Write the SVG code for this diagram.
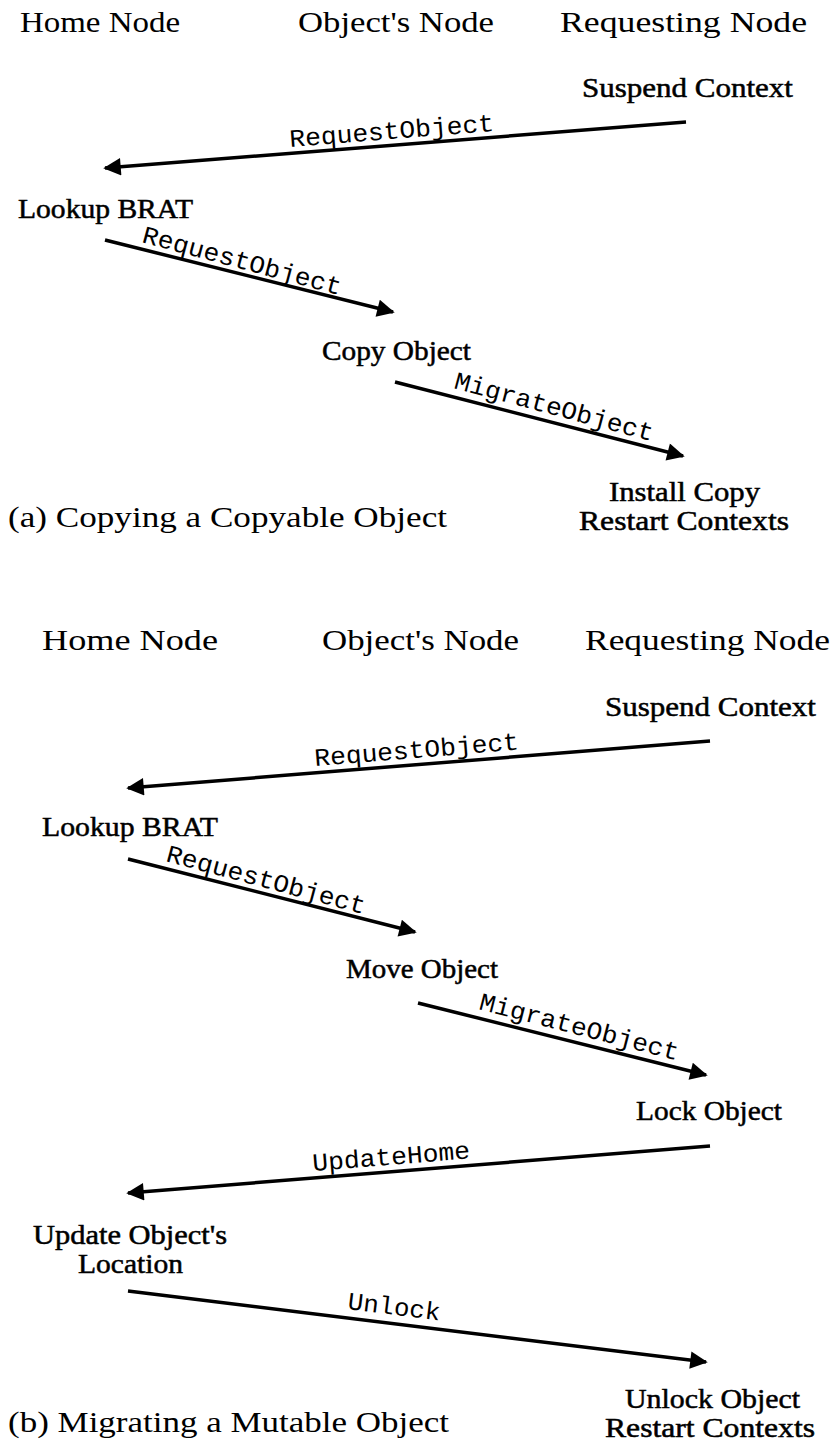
<svg xmlns="http://www.w3.org/2000/svg" width="833" height="1443" viewBox="0 0 833 1443">
  <style>
    .hdr { font-size: 30px; fill: #000; }
    .node { font-size: 27px; fill: #000; stroke: #000; stroke-width: 0.5px; }
    .cap { font-size: 30px; fill: #000; }
    .msg { font-size: 25px; fill: #000; }
    .arrow { stroke: #000; stroke-width: 3.5; fill: none; marker-end: url(#head); }
  </style>
  <defs>
    <marker id="head" viewBox="0 0 10 10" refX="9" refY="5" markerWidth="7" markerHeight="5" orient="auto" markerUnits="strokeWidth">
      <path d="M0,0 L10,5 L0,10 Z" fill="#000"/>
    </marker>
  </defs>
  <rect width="833" height="1443" fill="#fff"/>

  <g font-family="Liberation Serif, Times New Roman, serif">
    <!-- (a) column headings -->
    <g id="a-headers">
      <text class="hdr" x="20" y="32" textLength="160" lengthAdjust="spacingAndGlyphs">Home Node</text>
      <text class="hdr" x="298" y="32" textLength="196" lengthAdjust="spacingAndGlyphs">Object's Node</text>
      <text class="hdr" x="560" y="32" textLength="247" lengthAdjust="spacingAndGlyphs">Requesting Node</text>
    </g>

    <!-- (a) steps -->
    <g id="a-suspend"><text class="node" x="582" y="97" textLength="211" lengthAdjust="spacingAndGlyphs">Suspend Context</text></g>
    <g id="a-lookup"><text class="node" x="18" y="218" textLength="175" lengthAdjust="spacingAndGlyphs">Lookup BRAT</text></g>
    <g id="a-copy"><text class="node" x="322" y="360" textLength="149" lengthAdjust="spacingAndGlyphs">Copy Object</text></g>
    <g id="a-install">
      <text class="node" x="609" y="501" textLength="151" lengthAdjust="spacingAndGlyphs">Install Copy</text>
      <text class="node" x="579" y="530" textLength="210" lengthAdjust="spacingAndGlyphs">Restart Contexts</text>
    </g>
    <g id="a-caption"><text class="cap" x="8" y="527" textLength="439" lengthAdjust="spacingAndGlyphs">(a) Copying a Copyable Object</text></g>

    <!-- (b) column headings -->
    <g id="b-headers">
      <text class="hdr" x="42" y="650" textLength="176" lengthAdjust="spacingAndGlyphs">Home Node</text>
      <text class="hdr" x="322" y="650" textLength="197" lengthAdjust="spacingAndGlyphs">Object's Node</text>
      <text class="hdr" x="585" y="650" textLength="245" lengthAdjust="spacingAndGlyphs">Requesting Node</text>
    </g>

    <!-- (b) steps -->
    <g id="b-suspend"><text class="node" x="605" y="716" textLength="211" lengthAdjust="spacingAndGlyphs">Suspend Context</text></g>
    <g id="b-lookup"><text class="node" x="42" y="836" textLength="176" lengthAdjust="spacingAndGlyphs">Lookup BRAT</text></g>
    <g id="b-move"><text class="node" x="346" y="978" textLength="152" lengthAdjust="spacingAndGlyphs">Move Object</text></g>
    <g id="b-lock"><text class="node" x="636" y="1120" textLength="146" lengthAdjust="spacingAndGlyphs">Lock Object</text></g>
    <g id="b-update">
      <text class="node" x="33" y="1244" textLength="194" lengthAdjust="spacingAndGlyphs">Update Object's</text>
      <text class="node" x="78" y="1273" textLength="105" lengthAdjust="spacingAndGlyphs">Location</text>
    </g>
    <g id="b-unlock">
      <text class="node" x="625" y="1408" textLength="175" lengthAdjust="spacingAndGlyphs">Unlock Object</text>
      <text class="node" x="605" y="1437" textLength="210" lengthAdjust="spacingAndGlyphs">Restart Contexts</text>
    </g>
    <g id="b-caption"><text class="cap" x="8" y="1432" textLength="441" lengthAdjust="spacingAndGlyphs">(b) Migrating a Mutable Object</text></g>
  </g>

  <!-- messages between nodes -->
  <g id="connectors" font-family="Liberation Mono, Courier New, monospace">
    <line class="arrow" x1="686" y1="122" x2="105" y2="168"/>
    <text class="msg" transform="translate(290,147) rotate(-4.5)" textLength="205" lengthAdjust="spacingAndGlyphs">RequestObject</text>

    <line class="arrow" x1="105" y1="240" x2="393" y2="312"/>
    <text class="msg" transform="translate(141,242) rotate(15)" textLength="205" lengthAdjust="spacingAndGlyphs">RequestObject</text>

    <line class="arrow" x1="395" y1="382" x2="683" y2="456"/>
    <text class="msg" transform="translate(453,388) rotate(15)" textLength="205" lengthAdjust="spacingAndGlyphs">MigrateObject</text>

    <line class="arrow" x1="710" y1="741" x2="128" y2="788"/>
    <text class="msg" transform="translate(315,766) rotate(-4.6)" textLength="205" lengthAdjust="spacingAndGlyphs">RequestObject</text>

    <line class="arrow" x1="128" y1="859" x2="415" y2="932"/>
    <text class="msg" transform="translate(165,861) rotate(15)" textLength="205" lengthAdjust="spacingAndGlyphs">RequestObject</text>

    <line class="arrow" x1="418" y1="1003" x2="706" y2="1075"/>
    <text class="msg" transform="translate(478,1009) rotate(14.5)" textLength="205" lengthAdjust="spacingAndGlyphs">MigrateObject</text>

    <line class="arrow" x1="710" y1="1146" x2="128" y2="1193"/>
    <text class="msg" transform="translate(313,1171) rotate(-4.6)" textLength="158" lengthAdjust="spacingAndGlyphs">UpdateHome</text>

    <line class="arrow" x1="128" y1="1291" x2="706" y2="1362"/>
    <text class="msg" transform="translate(347,1309) rotate(7)" textLength="93" lengthAdjust="spacingAndGlyphs">Unlock</text>
  </g>
</svg>
